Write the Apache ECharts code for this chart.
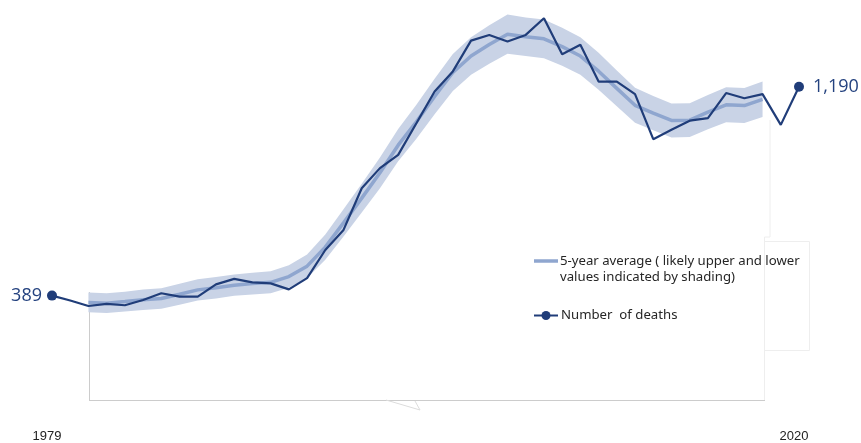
<!DOCTYPE html>
<html>
<head>
<meta charset="utf-8">
<script src="https://cdn.jsdelivr.net/npm/echarts@6/dist/echarts.min.js"></script>
<style>
html,body{margin:0;padding:0;background:#fff;}
#chart{width:861px;height:443px;}
</style>
</head>
<body>
<div id="chart"></div>
<script>
// Years 1979..2020
var years = [];
for (var y = 1979; y <= 2020; y++) years.push(String(y));

// Number of deaths
var deaths = [389, 370, 349, 357, 352, 372, 398, 385, 385, 432, 453, 440, 436, 413, 456,
  564, 641, 801, 878, 929, 1050, 1172, 1249, 1367, 1389, 1364, 1389, 1453, 1315, 1351,
  1210, 1210, 1162, 989, 1025, 1060, 1070, 1166, 1146, 1162, 1044, 1190];

// 5-year average, 1981..2018
var avgYears = ['1981', '2018'];
var avg5 = [363, 360, 366, 373, 378, 394, 411, 419, 429, 435, 440, 462, 502, 575, 668,
  763, 860, 966, 1056, 1153, 1245, 1308, 1352, 1392, 1382, 1374, 1344, 1308, 1250, 1184,
  1119, 1089, 1061, 1062, 1093, 1121, 1118, 1142];
// Likely upper / lower values (shading), 1981..2018
var upper = [401, 398, 404, 412, 417, 434, 452, 460, 470, 477, 482, 505, 547, 623, 720,
  818, 919, 1028, 1121, 1221, 1316, 1380, 1426, 1467, 1456, 1448, 1417, 1380, 1321, 1253,
  1186, 1155, 1126, 1127, 1159, 1188, 1185, 1210];
var lower = [325, 322, 328, 334, 339, 354, 370, 378, 388, 393, 398, 419, 457, 527, 616,
  708, 801, 904, 991, 1085, 1174, 1236, 1278, 1317, 1308, 1300, 1271, 1236, 1179, 1115,
  1052, 1023, 996, 997, 1027, 1054, 1051, 1074];

var startIdx = years.indexOf(avgYears[0]);
function pad(arr) {
  var out = [];
  for (var i = 0; i < years.length; i++) {
    var j = i - startIdx;
    out.push(j >= 0 && j < arr.length ? arr[j] : '-');
  }
  return out;
}
var lowerFull = pad(lower);
var bandFull = pad(upper.map(function (v, i) { return v - lower[i]; }));
var avgFull = pad(avg5);

var navy = '#203d79';
var avgColor = '#8fa6cf';
var bandColor = '#c9d3e6';
var lastIdx = deaths.length - 1;

var chart = echarts.init(document.getElementById('chart'), null, {renderer: 'canvas'});
chart.setOption({
  animation: false,
  backgroundColor: '#ffffff',
  grid: {left: 52, right: 62, top: 6, bottom: 46, containLabel: false},
  xAxis: {
    type: 'category',
    data: years,
    boundaryGap: false,
    axisLine: {show: false},
    axisTick: {show: false},
    splitLine: {show: false},
    axisLabel: {
      show: true,
      margin: 33,
      color: '#222222',
      fontFamily: 'Liberation Sans, Arial, sans-serif',
      fontSize: 13,
      padding: [0, 10, 0, 0],
      interval: function (i) { return i === 0 || i === lastIdx; }
    }
  },
  yAxis: {
    type: 'value',
    min: 0,
    max: 1500,
    show: false,
    splitLine: {show: false}
  },
  graphic: [
    {type: 'line', z: -1, shape: {x1: 89, y1: 400.5, x2: 765, y2: 400.5}, style: {stroke: '#cccccc', lineWidth: 1}},
    {type: 'line', z: -1, shape: {x1: 89.5, y1: 292, x2: 89.5, y2: 400}, style: {stroke: '#cccccc', lineWidth: 1}},
    {type: 'polyline', z: -1, shape: {points: [[386, 400], [420, 410], [415, 401]]}, style: {stroke: '#dddddd', lineWidth: 1, fill: null}},
    {type: 'polyline', z: -1, shape: {points: [[770, 120], [770, 237], [764.5, 237], [764.5, 400]]}, style: {stroke: '#eeeeee', lineWidth: 1, fill: null}},
    {type: 'polyline', z: -1, shape: {points: [[764, 241.5], [809.5, 241.5], [809.5, 350.5], [764, 350.5]]}, style: {stroke: '#eeeeee', lineWidth: 1, fill: null}},
    // legend
    {type: 'line', shape: {x1: 534, y1: 261, x2: 558, y2: 261}, style: {stroke: avgColor, lineWidth: 3.5}},
    {type: 'text', x: 560, y: 261, style: {text: '5-year average ( likely upper and lower', fill: '#262626', font: '13.2px "Noto Sans", sans-serif', verticalAlign: 'middle', align: 'left'}},
    {type: 'text', x: 560, y: 277, style: {text: 'values indicated by shading)', fill: '#262626', font: '13.2px "Noto Sans", sans-serif', verticalAlign: 'middle', align: 'left'}},
    {type: 'line', shape: {x1: 534, y1: 315.5, x2: 558, y2: 315.5}, style: {stroke: navy, lineWidth: 2}},
    {type: 'circle', shape: {cx: 546, cy: 315.5, r: 4.5}, style: {fill: navy}},
    {type: 'text', x: 561, y: 315.5, style: {text: 'Number  of deaths', fill: '#262626', font: '13.2px "Noto Sans", sans-serif', verticalAlign: 'middle', align: 'left'}}
  ],
  series: [
    {
      name: 'lower', type: 'line', stack: 'band', data: lowerFull,
      symbol: 'none', lineStyle: {width: 0, opacity: 0}, silent: true, z: 1
    },
    {
      name: 'band', type: 'line', stack: 'band', data: bandFull,
      symbol: 'none', lineStyle: {width: 0, opacity: 0},
      areaStyle: {color: bandColor, opacity: 1}, silent: true, z: 1
    },
    {
      name: '5-year average', type: 'line', data: avgFull,
      symbol: 'none', lineStyle: {color: avgColor, width: 3.5}, z: 2
    },
    {
      name: 'Number of deaths', type: 'line', data: deaths.map(function (v, i) {
        if (i === 0) {
          return {value: v, symbol: 'circle', symbolSize: 10,
            label: {show: true, position: 'left', distance: 5, formatter: '389'}};
        }
        if (i === lastIdx) {
          return {value: v, symbol: 'circle', symbolSize: 10,
            label: {show: true, position: 'right', distance: 9, formatter: '1,190'}};
        }
        return {value: v, symbol: 'none'};
      }),
      showSymbol: true,
      symbol: 'none',
      itemStyle: {color: navy},
      lineStyle: {color: navy, width: 2.2},
      label: {color: '#24427f', fontSize: 18, fontFamily: '"Open Sans", "Noto Sans", sans-serif', fontWeight: 'normal'},
      z: 3
    }
  ]
});
</script>
</body>
</html>
